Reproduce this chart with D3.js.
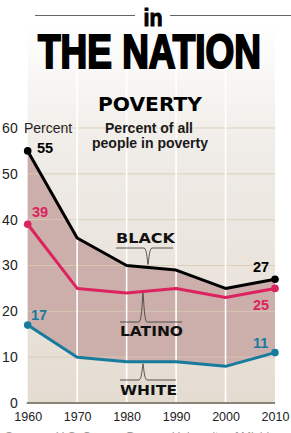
<!DOCTYPE html>
<html><head><meta charset="utf-8">
<script src="https://cdn.jsdelivr.net/npm/d3@7"></script>
<style>body{margin:0;background:#fff;overflow:hidden}svg{display:block}</style>
</head><body>
<script>
const years = [1960, 1970, 1980, 1990, 2000, 2010];
const black = [55, 36, 30, 29, 25, 27];
const latino = [39, 25, 24, 25, 23, 25];
const white = [17, 10, 9, 9, 8, 11];
const yTicks = [0, 10, 20, 30, 40, 50, 60];

const W = 291, H = 433;
const svg = d3.select("body").append("svg").attr("width", W).attr("height", H);
const x = d3.scaleLinear().domain([1960, 2010]).range([27.7, 275]);
const y = d3.scaleLinear().domain([0, 60]).range([403, 128]);

const defs = svg.append("defs");
const g = defs.append("linearGradient").attr("id", "bg").attr("x1", 0).attr("x2", 0).attr("y1", 0).attr("y2", 1);
g.append("stop").attr("offset", "0%").attr("stop-color", "#ffffff");
g.append("stop").attr("offset", "35%").attr("stop-color", "#efebe6");
g.append("stop").attr("offset", "100%").attr("stop-color", "#e4dcd1");

// background
svg.append("rect").attr("x", x(1960)).attr("y", 22).attr("width", x(2010) - x(1960)).attr("height", y(0) - 22).attr("fill", "url(#bg)");

// fill between black and white
const area = d3.area().x((d, i) => x(years[i])).y0((d, i) => y(white[i])).y1((d, i) => y(black[i]));
svg.append("path").datum(black).attr("d", area).attr("fill", "#ccaeab");

// horizontal grid
svg.append("g").selectAll("line").data(yTicks.filter(d => d > 0)).join("line")
  .attr("x1", x(1960)).attr("x2", x(2010)).attr("y1", d => y(d)).attr("y2", d => y(d))
  .attr("stroke", "#d9ccb4").attr("stroke-opacity", 0.85).attr("stroke-width", 1);
// vertical white grid
svg.append("g").selectAll("line").data(years.slice(1, 5)).join("line")
  .attr("x1", d => x(d)).attr("x2", d => x(d)).attr("y1", 22).attr("y2", y(0))
  .attr("stroke", "#ffffff").attr("stroke-width", 1.6);

// baseline
svg.append("line").attr("x1", x(1960) - 1).attr("x2", x(2010)).attr("y1", y(0)).attr("y2", y(0))
  .attr("stroke", "#8c8276").attr("stroke-width", 2);

// axes
const yAxis = svg.append("g").attr("transform", `translate(${x(1960)},0)`)
  .call(d3.axisLeft(y).tickValues(yTicks).tickSize(0).tickPadding(10));
yAxis.select(".domain").remove();
yAxis.selectAll("text").attr("font-family", "Liberation Sans Narrow, Liberation Sans, Arial, sans-serif")
  .attr("font-size", 14).attr("fill", "#222");

const xAxis = svg.append("g").attr("transform", `translate(0,${y(0)})`)
  .call(d3.axisBottom(x).tickValues(years).tickFormat(d3.format("d")).tickSize(0).tickPadding(9));
xAxis.select(".domain").remove();
xAxis.selectAll("text").attr("font-family", "Liberation Sans, Arial, sans-serif")
  .attr("font-size", 12.5).attr("fill", "#222");

svg.append("text").attr("x", 24).attr("y", 133).text("Percent")
  .attr("font-family", "Liberation Sans Narrow, Liberation Sans, Arial, sans-serif").attr("font-size", 14).attr("fill", "#222");

// lines
const series = [
  {v: black, c: "#000000"},
  {v: latino, c: "#dc2360"},
  {v: white, c: "#177b9e"}
];
const line = d3.line().x((d, i) => x(years[i])).y(d => y(d));
series.forEach(s => {
  svg.append("path").datum(s.v).attr("d", line).attr("fill", "none")
    .attr("stroke", s.c).attr("stroke-width", 3).attr("stroke-linejoin", "round");
  [0, years.length - 1].forEach(i => {
    svg.append("circle").attr("cx", x(years[i])).attr("cy", y(s.v[i])).attr("r", 3.8).attr("fill", s.c);
  });
});

// value labels
const vl = [
  {t: black[0], x: 37, y: 153, c: "#000"},
  {t: latino[0], x: 32, y: 217, c: "#dc2360"},
  {t: white[0], x: 31, y: 320, c: "#177b9e"},
  {t: black[5], x: 253, y: 272, c: "#000"},
  {t: latino[5], x: 253, y: 310, c: "#dc2360"},
  {t: white[5], x: 253, y: 348, c: "#177b9e"}
];
svg.append("g").selectAll("text").data(vl).join("text")
  .attr("x", d => d.x).attr("y", d => d.y).text(d => d.t)
  .attr("font-family", "Liberation Sans, Arial, sans-serif").attr("font-weight", "bold")
  .attr("font-size", 14.5).attr("fill", d => d.c);

// series labels with spike pointers
function spike(x0, x1, yb, px, pt) {
  return `M${x0},${yb} L${px - 4},${yb} C${px - 1},${yb} ${px - 0.5},${pt} ${px},${pt} C${px + 0.5},${pt} ${px + 1},${yb} ${px + 4},${yb} L${x1},${yb}`;
}
const labels = [
  {t: "BLACK", tx: 116, ty: 243, w: 59, lx0: 116, lx1: 173, ly: 248, px: 148, pt: y(30) - 1},
  {t: "LATINO", tx: 120, ty: 336, w: 63, lx0: 120, lx1: 182, ly: 322, px: 143, pt: y(24.2) + 1},
  {t: "WHITE", tx: 120, ty: 395, w: 57, lx0: 120, lx1: 176, ly: 380, px: 143, pt: y(9) + 2}
];
labels.forEach(l => {
  svg.append("text").attr("x", l.tx).attr("y", l.ty).text(l.t)
    .attr("font-family", "DejaVu Sans, sans-serif").attr("font-weight", "bold")
    .attr("font-size", 13.5).attr("textLength", l.w).attr("lengthAdjust", "spacingAndGlyphs").attr("fill", "#111");
  svg.append("path").attr("d", spike(l.lx0, l.lx1, l.ly, l.px, l.pt))
    .attr("fill", "none").attr("stroke", "#333").attr("stroke-width", 0.8);
});

// title block
svg.append("line").attr("x1", 35).attr("x2", 135).attr("y1", 15.5).attr("y2", 15.5).attr("stroke", "#666").attr("stroke-width", 1);
svg.append("line").attr("x1", 170).attr("x2", 291).attr("y1", 15.5).attr("y2", 15.5).attr("stroke", "#666").attr("stroke-width", 1);
svg.append("text").attr("x", 143.5).attr("y", 26).text("in")
  .attr("font-family", "Liberation Sans Narrow, Liberation Sans, Arial, sans-serif").attr("font-weight", "bold")
  .attr("font-size", 24).attr("textLength", 19).attr("lengthAdjust", "spacingAndGlyphs").attr("fill", "#000")
  .attr("stroke", "#000").attr("stroke-width", 1);
svg.append("text").attr("x", 38).attr("y", 67.5).text("THE NATION")
  .attr("font-family", "Liberation Sans Narrow, Liberation Sans, Arial, sans-serif").attr("font-weight", "bold")
  .attr("font-size", 47.5).attr("textLength", 223).attr("lengthAdjust", "spacingAndGlyphs").attr("fill", "#000")
  .attr("stroke", "#000").attr("stroke-width", 2.2).attr("stroke-linejoin", "miter");

svg.append("text").attr("x", 98).attr("y", 111).text("POVERTY")
  .attr("font-family", "DejaVu Sans, sans-serif").attr("font-weight", "bold")
  .attr("font-size", 19).attr("textLength", 104).attr("lengthAdjust", "spacingAndGlyphs").attr("fill", "#000");
svg.append("text").attr("x", 105).attr("y", 133).text("Percent of all")
  .attr("font-family", "Liberation Sans, Arial, sans-serif").attr("font-weight", "bold").attr("font-size", 14)
  .attr("textLength", 88).attr("lengthAdjust", "spacingAndGlyphs").attr("fill", "#1a1a1a");
svg.append("text").attr("x", 92).attr("y", 148).text("people in poverty")
  .attr("font-family", "Liberation Sans, Arial, sans-serif").attr("font-weight", "bold").attr("font-size", 14)
  .attr("textLength", 116).attr("lengthAdjust", "spacingAndGlyphs").attr("fill", "#1a1a1a");

svg.append("text").attr("x", 5).attr("y", 441).text("Sources: U.S. Census Bureau, University of Michigan")
  .attr("font-family", "Liberation Sans, Arial, sans-serif").attr("font-size", 12).attr("fill", "#999");
</script>
</body></html>
